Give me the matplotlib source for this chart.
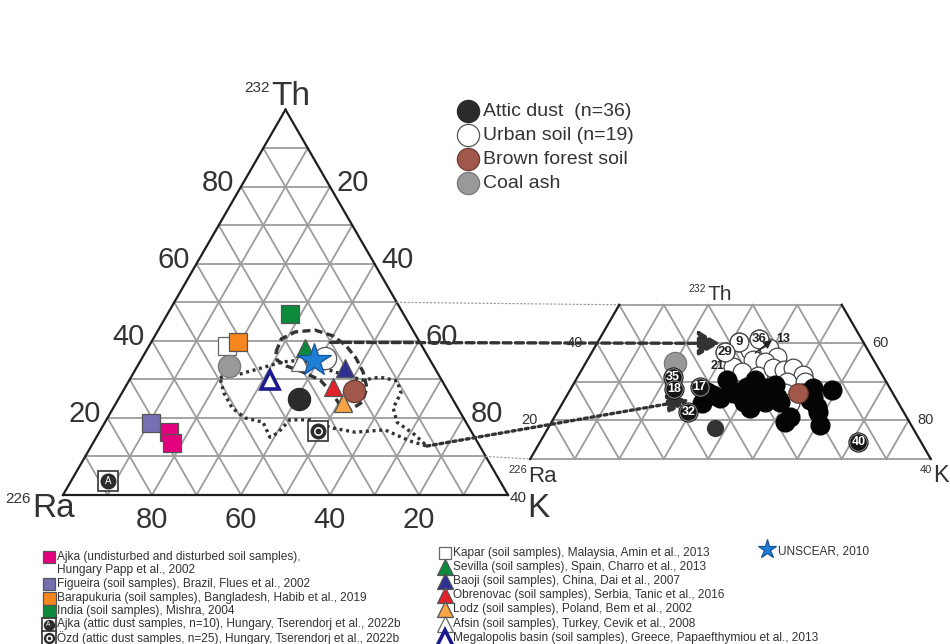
import numpy as np
import matplotlib.pyplot as plt

plt.rcParams['font.family'] = ['Liberation Sans', 'DejaVu Sans']

# ---- main diagram: shares in %, Ra = 100 - Th - K ----
site_keys = ["Ajka soil", "Ajka soil", "Figueira", "Kapar", "Barapukuria", "India",
             "Coal ash", "Ajka attic", "Ozd attic", "Megalopolis", "Attic dust",
             "Afsin", "Sevilla", "Urban soil", "Baoji", "Obrenovac",
             "Brown forest soil", "Lodz", "UNSCEAR"]
site_th = [16.3, 13.5, 18.7, 38.7, 39.7, 47.0, 33.5, 3.6, 16.6, 29.8, 24.9,
           34.5, 38.1, 35.5, 33.0, 28.0, 27.0, 23.9, 35.0]
site_k = [15.7, 17.7, 10.4, 17.5, 19.5, 27.5, 20.6, 8.3, 49.0, 31.6, 40.6,
          36.0, 35.3, 41.1, 46.9, 46.7, 51.9, 51.0, 38.9]

# outlines of the sample fields
dash_th = [37.1, 40.5, 42.3, 42.8, 41.3, 38.7, 35.5, 31.9, 27.8, 24.1, 22.1, 23.4,
           26.5, 29.8, 31.9, 33.5, 35.0]
dash_k = [29.3, 28.8, 31.0, 35.2, 40.0, 44.3, 48.1, 51.5, 54.4, 55.2, 53.5, 50.5,
          47.2, 42.9, 38.0, 33.4, 30.6]
dot_th = [30.4, 31.4, 33.0, 34.5, 35.0, 31.9, 29.8, 30.6, 29.6, 26.5, 22.6, 18.9, 15.6,
          12.7, 14.0, 16.9, 16.3, 17.4, 19.5, 19.5, 16.1, 15.0, 18.9, 20.0, 22.6, 26.5]
dot_k = [20.1, 24.1, 28.2, 32.0, 35.8, 45.2, 52.5, 55.9, 60.3, 62.7, 62.9, 65.6, 71.3,
         75.4, 71.0, 63.9, 57.5, 51.7, 45.7, 41.2, 40.2, 39.0, 35.5, 30.9, 26.7, 22.9]

# ---- inset: individual samples ----
urban_th = [40.4, 41.1, 37.8, 38.3, 38.7, 36.5, 35.7, 35.2, 33.9, 32.6, 31.5, 33.5,
            33.1, 33.5, 31.8, 30.0, 30.0, 27.0, 24.4]
urban_k = [31.7, 35.9, 29.9, 35.2, 39.2, 42.2, 37.3, 40.2, 33.7, 36.2, 40.5, 42.9,
           45.4, 47.4, 50.5, 47.6, 51.7, 48.7, 51.2]
urban_ids = ["9", "36", "29"] + [""] * 16

attic_th = [28.7, 26.6, 24.4, 22.3, 31.2, 28.2, 30.5, 27.5, 28.7, 30.5, 24.9, 23.2,
            27.0, 28.3, 24.9, 29.2, 26.1, 25.3, 27.0, 25.8, 28.3, 28.0, 25.3, 23.6,
            22.3, 18.8, 19.6, 21.0, 14.5, 27.5, 27.0, 27.0, 26.6, 24.9, 27.0, 26.1]
attic_k = [28.7, 32.8, 31.3, 29.4, 21.5, 23.2, 33.9, 37.7, 39.3, 40.3, 40.5, 42.8,
           42.7, 44.0, 45.4, 45.4, 47.4, 42.5, 37.1, 34.7, 54.5, 58.7, 55.3, 57.6,
           58.6, 60.7, 52.4, 52.9, 71.5, 30.9, 45.4, 40.9, 38.8, 48.7, 52.9, 55.6]
attic_ids = ["17", "", "", "32", "35", "18"] + [""] * 22 + ["40"] + [""] * 7

inset_keys = ["Coal ash", "Attic mean", "Brown forest soil"]
inset_th = [34.8, 18.0, 27.0]
inset_k = [20.1, 37.5, 51.6]

# arrows from the main fields to the inset (Th, K)
link_from = [(39.6, 40.3), (12.7, 75.4)]
link_to = [(40.0, 27.6), (25.3, 28.2)]

top_labels = ["Attic dust  (n=36)", "Urban soil (n=19)", "Brown forest soil", "Coal ash"]
top_keys = ["Attic dust", "Urban soil", "Brown forest soil", "Coal ash"]

left_labels = ["Ajka (undisturbed and disturbed soil samples),\nHungary Papp et al., 2002",
               "Figueira (soil samples), Brazil, Flues et al., 2002",
               "Barapukuria (soil samples), Bangladesh, Habib et al., 2019",
               "India (soil samples), Mishra, 2004",
               "Ajka (attic dust samples, n=10), Hungary, Tserendorj et al., 2022b",
               "Özd (attic dust samples, n=25), Hungary, Tserendorj et al., 2022b"]
left_keys = ["Ajka soil", "Figueira", "Barapukuria", "India", "Ajka attic", "Ozd attic"]
mid_labels = ["Kapar (soil samples), Malaysia, Amin et al., 2013",
              "Sevilla (soil samples), Spain, Charro et al., 2013",
              "Baoji (soil samples), China, Dai et al., 2007",
              "Obrenovac (soil samples), Serbia, Tanic et al., 2016",
              "Lodz (soil samples), Poland, Bem et al., 2002",
              "Afsin (soil samples), Turkey, Cevik et al., 2008",
              "Megalopolis basin (soil samples), Greece, Papaefthymiou et al., 2013"]
mid_keys = ["Kapar", "Sevilla", "Baoji", "Obrenovac", "Lodz", "Afsin", "Megalopolis"]

GREY = '#9c9c9c'
EDGE = '#1e1e1e'
INK = '#333333'
STYLE = {
    "Ajka soil": dict(marker='s', ms=12.5, mfc='#E5007D', mec='#555555'),
    "Figueira": dict(marker='s', ms=12.5, mfc='#7670B3', mec='#555555'),
    "Barapukuria": dict(marker='s', ms=13, mfc='#F7861F', mec='#555555'),
    "India": dict(marker='s', ms=13, mfc='#0B8A3C', mec='#555555'),
    "Kapar": dict(marker='s', ms=13, mfc='white', mec='#666666'),
    "Sevilla": dict(marker='^', ms=13, mfc='#0B8A3C', mec='#555555'),
    "Baoji": dict(marker='^', ms=13, mfc='#2E3192', mec='#555555'),
    "Obrenovac": dict(marker='^', ms=13, mfc='#E4212B', mec='#555555'),
    "Lodz": dict(marker='^', ms=13, mfc='#F8A444', mec='#555555'),
    "Afsin": dict(marker='^', ms=13, mfc='white', mec='#666666'),
    "Megalopolis": dict(marker='^', ms=13, mfc='white', mec='#1B1A8F', mew=2.6),
    "UNSCEAR": dict(marker='*', ms=25, mfc='#1D80D6', mec='#17539a'),
    "Attic dust": dict(marker='o', ms=16, mfc='#2b2b2b', mec='#2b2b2b'),
    "Attic mean": dict(marker='o', ms=11.5, mfc='#333333', mec='#333333'),
    "Urban soil": dict(marker='o', ms=16, mfc='white', mec='#555555'),
    "Brown forest soil": dict(marker='o', ms=16, mfc='#A1584A', mec='#6b3b30'),
    "Coal ash": dict(marker='o', ms=16, mfc='#999999', mec='#777777'),
}

W, H, SIDE = 950, 644, 445.0
SQ = np.sqrt(3) / 2
DOT_MS = 13.5  # inset sample circles


def xy(th, k):
    th = np.asarray(th, float) / 100.0
    k = np.asarray(k, float) / 100.0
    return k + th / 2, th * SQ


def pt(th, k):
    return [float(c) for c in xy(th, k)]


fig = plt.figure(figsize=(W / 100, H / 100), dpi=100)


def tern_axes(x0, y0):
    a = fig.add_axes([0, 0, 1, 1])
    a.set_xlim(-x0 / SIDE, (W - x0) / SIDE)
    a.set_ylim((y0 - H) / SIDE, y0 / SIDE)
    a.axis('off')
    return a


ax = tern_axes(63, 495)
axi = tern_axes(508, 497.5)
lax = fig.add_axes([0, 0, 1, 1])
lax.set_xlim(0, W)
lax.set_ylim(H, 0)
lax.axis('off')


def draw_grid(a, lo, hi):
    for v in range(0, 100, 10):
        if lo <= v <= hi:
            xs, ys = xy([v, v], [0, 100 - v])
            a.plot(xs, ys, color=EDGE if v == 0 else GREY,
                   lw=1.6 if v == 0 else 1.3, zorder=2 if v == 0 else 1)
        top = min(hi, 100 - v)
        if top > lo:
            for xs, ys in (xy([lo, top], [v, v]), xy([lo, top], [100 - v - lo, 100 - v - top])):
                a.plot(xs, ys, color=EDGE if v == 0 else GREY,
                       lw=1.6 if v == 0 else 1.3, zorder=2 if v == 0 else 1)


def marker(a, x, y, key, scale=1.0, z=5):
    if key in ("Ajka attic", "Ozd attic"):
        ms = 14 * scale
        a.plot(x, y, marker='s', ms=ms, mfc='white', mec='#333333', mew=1.2, zorder=z)
        a.plot(x, y, marker='o', ms=ms * 0.75, mfc='#2b2b2b', mec='#2b2b2b', zorder=z + 0.1)
        if key == "Ajka attic":
            a.text(x, y, 'A', color='white', fontsize=ms * 0.5, ha='center', va='center',
                   zorder=z + 0.2)
        else:
            a.plot(x, y, marker='o', ms=ms * 0.38, mfc='none', mec='white', mew=1.1,
                   zorder=z + 0.2)
        return
    st = dict(STYLE[key])
    st['ms'] = st['ms'] * scale
    st.setdefault('mew', 0.9)
    if 'mew' in STYLE[key]:
        st['mew'] = STYLE[key]['mew'] * min(1.0, scale * 1.2)
    a.plot(x, y, ls='none', zorder=z, **st)


# ---- main triangle ----
draw_grid(ax, 0, 100)
for v in (20, 40, 60, 80):
    ax.annotate(str(v), pt(v, 0), xytext=(-5, 3), textcoords='offset points',
                ha='right', va='center', fontsize=21, color=INK)
    ax.annotate(str(100 - v), pt(v, 100 - v), xytext=(5, 3),
                textcoords='offset points', ha='left', va='center', fontsize=21, color=INK)
    ax.annotate(str(100 - v), pt(0, v), xytext=(0, -18),
                textcoords='offset points', ha='center', va='center', fontsize=21, color=INK)

x, y = xy(dash_th + dash_th[:1], dash_k + dash_k[:1])
ax.plot(x, y, color=INK, lw=2.4, ls=(0, (2.4, 1.3)), zorder=3)
x, y = xy(dot_th + dot_th[:1], dot_k + dot_k[:1])
ax.plot(x, y, color=INK, lw=2.4, ls=(0, (0.9, 1.1)), zorder=3)

for key, th, k in zip(site_keys, site_th, site_k):
    marker(ax, *pt(th, k), key)

# vertex labels
for sup, lab, xs, ys, xl, yl, fs, fss in [
        ("232", "Th", 270, 92, 271, 105, 24, 11), ("226", "Ra", 31, 503, 32, 517, 24, 11),
        ("40", "K", 527, 502, 527, 517, 24, 11),
        ("232", "Th", 706, 292, 707, 300, 15, 7.5), ("226", "Ra", 527, 473, 528, 482, 16, 8),
        ("40", "K", 932, 473, 933, 482, 17, 8)]:
    lax.text(xs, ys, sup, ha='right', va='baseline', fontsize=fss, color=INK)
    lax.text(xl, yl, lab, ha='left', va='baseline', fontsize=fs, color=INK)

# ---- inset (Th 10-50 %) ----
draw_grid(axi, 10, 50)
for v, dx in ((40, -10), (20, -11)):
    axi.annotate(str(v), pt(v, 0), xytext=(dx, 0), textcoords='offset points',
                 ha='right', va='center', fontsize=10.5, color=INK)
for v, dx in ((40, 6), (20, 6.5)):
    axi.annotate(str(100 - v), pt(v, 100 - v), xytext=(dx, 0),
                 textcoords='offset points', ha='left', va='center', fontsize=10.5, color=INK)

# thin leaders between the main triangle and the inset
for th in (50, 10):
    axi.annotate('', xy=pt(th, 0), xycoords='data', xytext=pt(th, 100 - th),
                 textcoords=ax.transData,
                 arrowprops=dict(arrowstyle='-', color='#999999', lw=0.9, ls=(0, (1, 2)),
                                 shrinkA=0, shrinkB=0), zorder=1)

for (fth, fk), (tth, tk), ls, hw in zip(link_from, link_to,
                                        [(0, (2.4, 1.3)), (0, (0.9, 1.1))], [0.38, 0.28]):
    axi.annotate('', xy=pt(tth, tk), xycoords='data', xytext=pt(fth, fk),
                 textcoords=ax.transData,
                 arrowprops=dict(arrowstyle=f'-|>,head_length=0.65,head_width={hw}',
                                 mutation_scale=20, color=INK, lw=2.4, ls=ls,
                                 shrinkA=0, shrinkB=0), zorder=4)

px, py = xy(inset_th[0], inset_k[0])
axi.plot(px, py, ls='none', zorder=4, **dict(STYLE["Coal ash"], mew=0.9))
px, py = xy(urban_th, urban_k)
axi.plot(px, py, 'o', ms=DOT_MS, mfc='white', mec='#444444', mew=0.9, zorder=5)
for x0, y0, t in zip(px, py, urban_ids):
    if t:
        axi.plot(x0, y0, 'o', ms=DOT_MS, mfc='white', mec='#444444', mew=0.9, zorder=7)
        axi.text(x0, y0, t, ha='center', va='center', fontsize=9.5, fontweight='bold',
                 color='#222222', zorder=8)
px, py = xy(attic_th, attic_k)
axi.plot(px, py, 'o', ms=DOT_MS, mfc='#050505', mec='#050505', zorder=6)
for x0, y0, t in zip(px, py, attic_ids):
    if t:
        axi.plot(x0, y0, 'o', ms=DOT_MS - 1, mfc='#151515', mec='#888888', mew=0.8, zorder=7)
        axi.text(x0, y0, t, ha='center', va='center', fontsize=9, fontweight='bold',
                 color='white', zorder=8)
for key, th, k in zip(inset_keys[1:], inset_th[1:], inset_k[1:]):
    px, py = xy(th, k)
    st = dict(STYLE[key], mew=0.9)
    if key != "Attic mean":
        st['ms'] = 14
    axi.plot(px, py, ls='none', zorder=7, **st)
axi.text(*pt(34.1, 30.0), "21", ha='center', va='center', fontsize=9,
         fontweight='bold', color='#222222', zorder=8)
axi.annotate('', xy=pt(40.9, 38.9), xytext=pt(37.5, 36.8),
             arrowprops=dict(arrowstyle='-|>,head_length=0.5,head_width=0.25', mutation_scale=10,
                             color='#222222', lw=1, shrinkA=0, shrinkB=0), zorder=8)
axi.text(*pt(41.1, 41.3), "13", ha='center', va='center', fontsize=9,
         fontweight='bold', color='#222222', zorder=8)

# ---- legends ----
for i, (lab, key) in enumerate(zip(top_labels, top_keys)):
    yy = 111 + 24 * i
    marker(lax, 468, yy, key, scale=1.0)
    lax.text(483, yy, lab, ha='left', va='center', fontsize=14, color=INK)

row = 557
for lab, key in zip(left_labels, left_keys):
    n = lab.count('\n') + 1
    if key in ("Ajka attic", "Ozd attic"):
        marker(lax, 48.5, row, key, scale=0.68)
    else:
        marker(lax, 48.5, row, key, scale=0.72)
    lax.text(57, row + 13.5 * (n - 1) / 2, lab, ha='left', va='center', fontsize=8.6,
             color=INK, linespacing=1.12)
    row += 13.5 * n

for i, (lab, key) in enumerate(zip(mid_labels, mid_keys)):
    yy = 553 + 14.1 * i
    marker(lax, 445, yy, key, scale=0.62 if key == "Kapar" else 0.85)
    lax.text(453, yy, lab, ha='left', va='center', fontsize=8.6, color=INK)

marker(lax, 767, 549, "UNSCEAR", scale=0.55)
lax.text(778, 552, "UNSCEAR, 2010", ha='left', va='center', fontsize=8.6, color=INK)

fig.savefig('out.png', dpi=100)
